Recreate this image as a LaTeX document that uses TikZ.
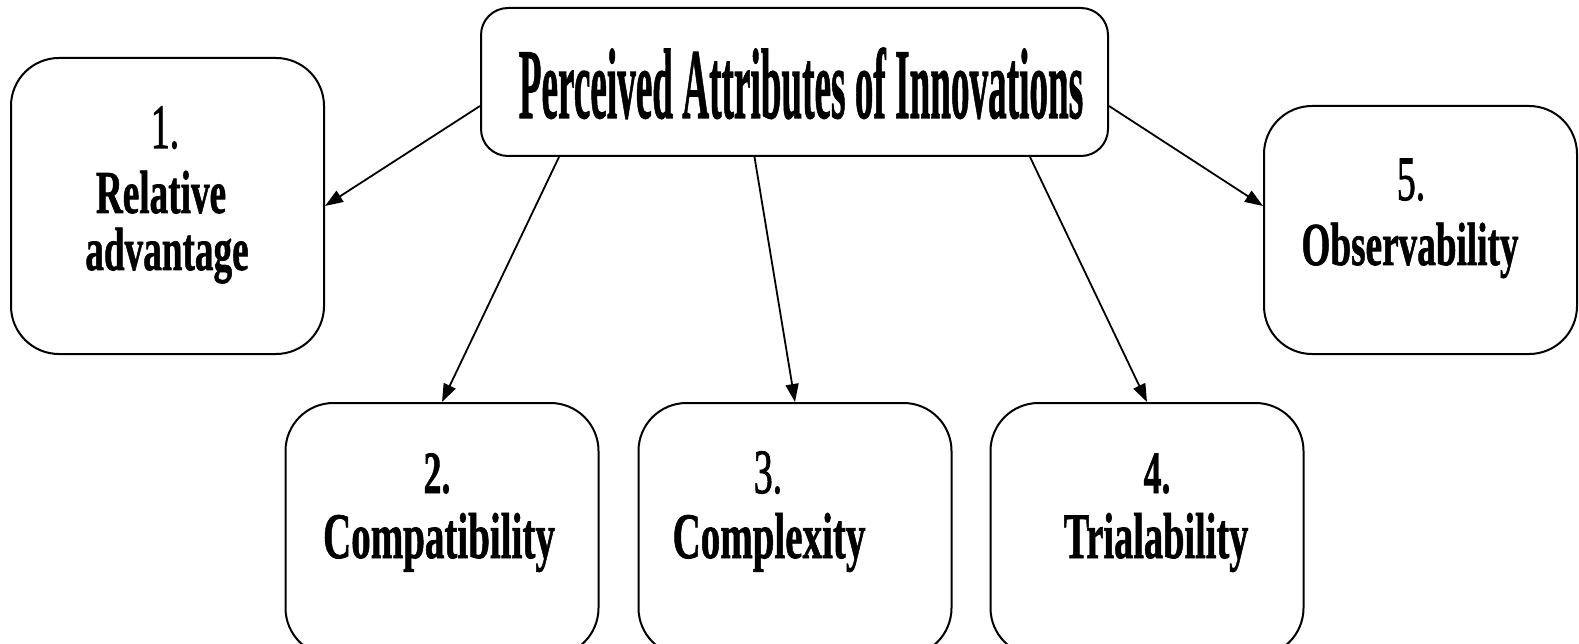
\documentclass[tikz,border=0pt]{standalone}
\usepackage{fontspec}
\setmainfont{Liberation Serif}
\newfontfamily\heavy[FakeBold=1.2]{Liberation Serif Bold}
\newfontfamily\medium[FakeBold=1.6]{Liberation Serif}
\usepackage{graphicx}
\usetikzlibrary{arrows.meta}
\newcommand\sqz[2]{\scalebox{#1}[1]{#2}}
\begin{document}
\begin{tikzpicture}[x=1pt,y=-1pt,
  boxbig/.style={draw,line width=2pt,rounded corners=48pt,inner sep=0pt,
    minimum width=313pt},
  boxtop/.style={draw,line width=2pt,rounded corners=27pt,inner sep=0pt,
    minimum width=627pt,minimum height=148pt},
  lbl/.style={anchor=base,inner sep=0pt,font=\fontsize{61}{61}\heavy},
  lblb/.style={anchor=base,inner sep=0pt,font=\fontsize{65}{65}\heavy},
  num/.style={anchor=base,inner sep=0pt,font=\fontsize{63}{63}\medium},
  numb/.style={anchor=base,inner sep=0pt,font=\fontsize{60}{60}\heavy},
  arr/.style={line width=1.8pt,-{Triangle[length=18pt,width=13pt]}}]
\useasboundingbox (0,0) rectangle (1579,644);
% boxes
\node[boxtop] (T) at (794.5,82) {};
\node[boxbig,minimum height=296pt] (B1) at (167.5,206) {};
\node[boxbig,minimum height=248pt] (B5) at (1420.5,230) {};
\node[boxbig,minimum height=253pt] (B2) at (442,529.5) {};
\node[boxbig,minimum height=253pt] (B3) at (795,529.5) {};
\node[boxbig,minimum height=253pt] (B4) at (1147,529.5) {};
% texts
\node[anchor=base,inner sep=0pt,font=\fontsize{100}{100}\heavy] (tT) at (801,118)
  {\sqz{0.372}{Perceived Attributes of Innovations}};
\node[num] (t1a) at (165,148) {\sqz{0.6}{1.}};
\node[lbl] (t1b) at (161,213) {\sqz{0.61}{Relative}};
\node[lbl] (t1c) at (167,270) {\sqz{0.61}{advantage}};
\node[num] (t5a) at (1411,200) {\sqz{0.6}{5.}};
\node[lbl] (t5b) at (1410,265) {\sqz{0.61}{Observability}};
\node[numb] (t2a) at (437,493) {\sqz{0.6}{2.}};
\node[lblb] (t2b) at (439,558) {\sqz{0.6}{Compatibility}};
\node[num] (t3a) at (768,493) {\sqz{0.6}{3.}};
\node[lblb] (t3b) at (769,558) {\sqz{0.6}{Complexity}};
\node[numb] (t4a) at (1157,493) {\sqz{0.6}{4.}};
\node[lblb] (t4b) at (1156,558) {\sqz{0.59}{Trialability}};
% connectors
\draw[arr] ([yshift=-24pt]T.west) -- (B1.east);
\draw[arr] ([xshift=79pt]T.south west) -- (B2.north);
\draw[arr] ([xshift=-40pt]T.south) -- (B3.north);
\draw[arr] ([xshift=-79pt]T.south east) -- (B4.north);
\draw[arr] ([yshift=-24pt]T.east) -- ([yshift=24pt]B5.west);
\end{tikzpicture}
\end{document}
